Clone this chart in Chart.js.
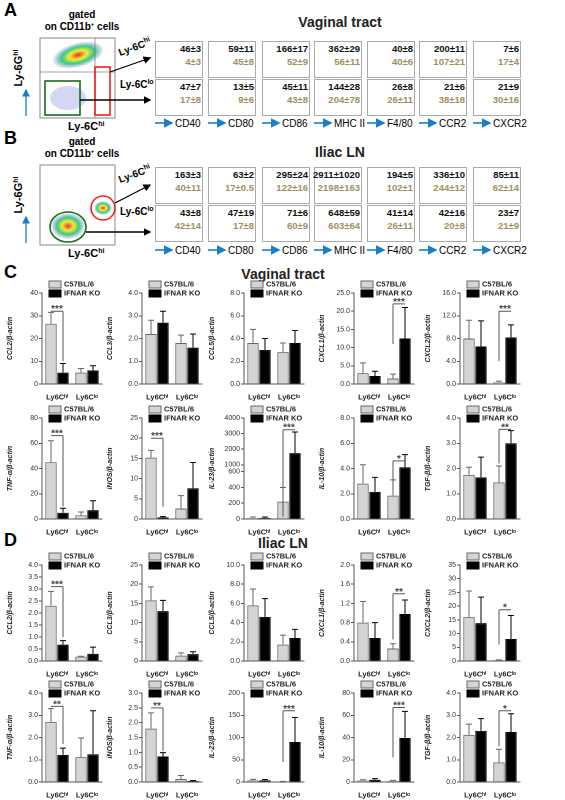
<!DOCTYPE html>
<html lang="en">
<head>
<meta charset="UTF-8" />
<title>Ly6C monocytes</title>
<script src="https://cdn.jsdelivr.net/npm/chart.js"></script>
<style>
  body { margin: 0; background: #fff; font-family: Arial, "Liberation Sans", sans-serif; }
  #page { position: relative; width: 565px; height: 800px; overflow: hidden; }
  .abs { position: absolute; }
  .panel { font-weight: bold; font-size: 18px; }
  .title { font-size: 14px; font-weight: bold; width: 200px; text-align: center; color: #222; }
  .hbox { position: absolute; width: 46px; height: 35px; border: 1px solid #aaa; background: #fff; font-size: 9.5px; font-weight: bold; white-space: nowrap; }
  .hbox .a { position: absolute; right: 1px; top: 1px; color: #111; }
  .hbox .b { position: absolute; right: 1px; top: 14px; color: #a09060; }
  canvas { position: absolute; }
</style>
</head>
<body>
<div id="page">
  <div class="abs panel" style="left:4px;top:0px">A</div>
  <div class="abs panel" style="left:4px;top:128px">B</div>
  <div class="abs panel" style="left:4px;top:262px">C</div>
  <div class="abs panel" style="left:4px;top:530px">D</div>
  <div class="abs title" style="left:240px;top:14px">Vaginal tract</div>
  <div class="abs title" style="left:240px;top:144px">Iliac LN</div>
  <div class="abs title" style="left:183px;top:266px">Vaginal tract</div>
  <div class="abs title" style="left:183px;top:535px">Iliac LN</div>
  <div id="flow"></div>
</div>

<script>
// ---- flow cytometry MFI numbers (panels A, B) ----
const markers = ["CD40", "CD80", "CD86", "MHC II", "F4/80", "CCR2", "CXCR2"];
const vagHiWT = ["46±3", "59±11", "166±17", "362±29", "40±8", "200±11", "7±6"];
const vagHiKO = ["4±3", "45±8", "52±9", "56±11", "40±6", "107±21", "17±4"];
const vagLoWT = ["47±7", "13±5", "45±11", "144±28", "26±8", "21±6", "21±9"];
const vagLoKO = ["17±8", "9±6", "43±8", "204±78", "26±11", "38±18", "30±16"];
const lnHiWT = ["163±3", "63±2", "295±24", "2911±1020", "194±5", "336±10", "85±11"];
const lnHiKO = ["40±11", "17±0.5", "122±16", "2198±163", "102±1", "244±12", "62±14"];
const lnLoWT = ["43±8", "47±19", "71±6", "648±59", "41±14", "42±16", "23±7"];
const lnLoKO = ["42±14", "17±8", "60±9", "603±64", "26±11", "20±8", "21±9"];

// ---- qPCR bars (panels C, D) ----
const groups = ["Ly6Cʰⁱ", "Ly6Cˡᵒ"];
const vagGenes = ["CCL2", "CCL3", "CCL5", "CXCL1", "CXCL2", "TNF-α", "iNOS", "IL-23", "IL-10", "TGF-β"];
const vagWT = [[26.5, 5], [2.2, 1.8], [3.6, 2.8], [3.0, 1.5], [8.0, 0.3], [45, 3], [15.2, 2.6], [15, 220], [2.8, 1.85], [1.75, 1.45]];
const vagWTErr = [[31.5, 6.8], [2.8, 2.15], [4.8, 3.6], [5.8, 2.7], [11.2, 0.5], [62, 5.5], [17, 5.8], [25, 400], [4.3, 3.1], [2.05, 2.1]];
const vagKO = [[5, 6], [2.7, 1.6], [3.0, 3.6], [2.2, 12.5], [6.6, 8.2], [5, 7], [0.4, 7.6], [15, 1750], [2.15, 4.1], [1.65, 3.0]];
const vagKOErr = [[9, 8], [3.2, 2.2], [4.0, 4.7], [3.5, 21], [11.1, 10.4], [8.5, 14.5], [0.6, 14], [25, 3100], [3.3, 5.1], [2.45, 3.5]];
const vagMax = [40, 4, 8, 25, 16, 80, 25, 4000, 8, 4];
const vagStep = [10, 1, 2, 5, 4, 20, 5, 1000, 2, 1];
const vagDec = [0, 1, 1, 1, 1, 0, 0, 0, 1, 1];
// [group, bracket height, drop-to value, side with the vertical, stars]
const vagSig = [[0, 32, 10, 1, "***"], null, null, [1, 22, 11, 0, "***"], [1, 12.8, 4, 0, "***"],
  [0, 66, 10, 1, "***"], [0, 20, 3, 1, "***"], [1, 3250, 30, 0, "***"], [1, 4.6, 2.3, 0, "*"], [1, 3.55, 2.2, 0, "**"]];

const lnGenes = ["CCL2", "CCL3", "CCL5", "CXCL1", "CXCL2", "TNF-α", "iNOS", "IL-23", "IL-10", "TGF-β"];
const lnWT = [[2.3, 0.18], [15.8, 1.4], [5.8, 1.7], [0.8, 0.26], [16, 0.3], [2.7, 1.12], [1.8, 0.1], [4, 1], [1.5, 1], [2.12, 0.88]];
const lnWTErr = [[2.9, 0.2], [19.3, 2.1], [7.5, 2.7], [1.24, 0.36], [25.5, 0.4], [3.3, 1.98], [2.33, 0.22], [6, 1.5], [2, 1.5], [2.6, 1.47]];
const lnKO = [[0.68, 0.3], [13, 1.8], [4.6, 2.4], [0.48, 0.98], [13.8, 8], [1.22, 1.25], [0.86, 0.04], [4, 90], [2, 39.5], [2.3, 2.25]];
const lnKOErr = [[0.85, 0.58], [15.8, 2.4], [6.5, 3.3], [0.8, 1.27], [23.3, 16.6], [1.52, 3.2], [0.99, 0.05], [5.5, 145], [3, 63.5], [2.85, 3.07]];
const lnMax = [4, 25, 10, 2, 35, 4, 3, 200, 80, 4];
const lnStep = [0.5, 5, 2, 0.4, 5, 1, 0.5, 50, 20, 0.5];
const lnDec = [1, 0, 1, 1, 0, 1, 1, 0, 0, 1];
const lnSig = [[0, 3.1, 1.0, 1, "***"], null, null, [1, 1.4, 0.45, 0, "**"], [1, 18.7, 6, 0, "*"],
  [0, 3.4, 1.7, 1, "**"], [0, 2.5, 1.05, 1, "**"], [1, 160, 45, 0, "***"], [1, 67, 22, 0, "***"], [1, 3.2, 1.6, 0, "*"]];

// broken axis used by vaginal IL-23
const brokenTicks = [0, 200, 400, 600, 1000, 2000, 3000, 4000];
function brk(v) { return v <= 600 ? v : 688 + (v - 1000) * 0.198; }
const ident = v => v;

// ---------- flow panel decorations ----------
const flow = document.getElementById("flow");
const histX = [155, 208, 262, 314, 367, 419, 473];
function histRow(top, a, b) {
  histX.forEach((x, i) => {
    const d = document.createElement("div");
    d.className = "hbox";
    d.style.left = x + "px"; d.style.top = top + "px";
    d.innerHTML = '<span class="a">' + a[i] + '</span><span class="b">' + b[i] + '</span>';
    flow.appendChild(d);
  });
}
histRow(41, vagHiWT, vagHiKO);
histRow(79, vagLoWT, vagLoKO);
histRow(167, lnHiWT, lnHiKO);
histRow(205, lnLoWT, lnLoKO);

let svg = '<svg class="abs" style="left:0;top:0" width="565" height="270" xmlns="http://www.w3.org/2000/svg">' +
  '<defs><marker id="ar" markerWidth="6" markerHeight="6" refX="5" refY="3" orient="auto"><path d="M0,0 L6,3 L0,6 z" fill="#000"/></marker>' +
  '<marker id="ab" markerWidth="6" markerHeight="6" refX="5" refY="3" orient="auto"><path d="M0,0 L6,3 L0,6 z" fill="#1a7fc8"/></marker>' +
  '<radialGradient id="g1" cx="50%" cy="50%" r="50%"><stop offset="0" stop-color="#e33"/><stop offset="0.35" stop-color="#ee3"/><stop offset="0.65" stop-color="#3c8"/><stop offset="1" stop-color="#88c" stop-opacity="0.1"/></radialGradient></defs>';
[[38, "A"], [165, "B"]].forEach(([t, p]) => {
  svg += '<rect x="40" y="' + t + '" width="75" height="80" fill="#fff" stroke="#888"/>';
  if (p === "A") {
    svg += '<ellipse cx="78" cy="' + (t + 17) + '" rx="26" ry="12" fill="url(#g1)" transform="rotate(-15 78 ' + (t + 17) + ')"/>';
    svg += '<ellipse cx="68" cy="' + (t + 60) + '" rx="18" ry="12" fill="#a8b0e8" opacity="0.5"/>';
    svg += '<line x1="40" y1="' + (t + 34) + '" x2="115" y2="' + (t + 34) + '" stroke="#666" stroke-width="0.6"/>';
    svg += '<line x1="95" y1="' + t + '" x2="95" y2="' + (t + 80) + '" stroke="#666" stroke-width="0.6"/>';
    svg += '<rect x="45" y="' + (t + 43) + '" width="35" height="34" fill="none" stroke="#1a6a1a" stroke-width="1.6"/>';
    svg += '<rect x="95" y="' + (t + 29) + '" width="15" height="48" fill="none" stroke="#e22" stroke-width="1.6"/>';
    svg += '<line x1="110" y1="' + (t + 34) + '" x2="150" y2="' + (t + 20) + '" stroke="#000" stroke-width="1.3" marker-end="url(#ar)"/>';
    svg += '<line x1="80" y1="' + (t + 62) + '" x2="150" y2="' + (t + 62) + '" stroke="#000" stroke-width="1.3" marker-end="url(#ar)"/>';
  } else {
    svg += '<ellipse cx="68" cy="' + (t + 61) + '" rx="17" ry="13" fill="url(#g1)"/>';
    svg += '<ellipse cx="103" cy="' + (t + 43) + '" rx="9" ry="7" fill="url(#g1)"/>';
    svg += '<ellipse cx="68" cy="' + (t + 62) + '" rx="18" ry="15" fill="none" stroke="#1a6a1a" stroke-width="1.6"/>';
    svg += '<circle cx="103" cy="' + (t + 43) + '" r="12" fill="none" stroke="#e22" stroke-width="1.6"/>';
    svg += '<line x1="115" y1="' + (t + 38) + '" x2="150" y2="' + (t + 20) + '" stroke="#000" stroke-width="1.3" marker-end="url(#ar)"/>';
    svg += '<line x1="86" y1="' + (t + 67) + '" x2="150" y2="' + (t + 67) + '" stroke="#000" stroke-width="1.3" marker-end="url(#ar)"/>';
  }
  svg += '<line x1="26" y1="' + (t + 78) + '" x2="26" y2="' + (t + 52) + '" stroke="#1a7fc8" stroke-width="1.3" marker-end="url(#ab)"/>';
  svg += '<text x="22" y="' + (t + 30) + '" font-size="11" font-weight="bold" transform="rotate(-90 22 ' + (t + 30) + ')" text-anchor="middle">Ly-6G<tspan font-size="7" dy="-4">hi</tspan></text>';
  svg += '<text x="82" y="' + (t - 20) + '" font-size="10" font-weight="bold" text-anchor="middle">gated</text>';
  svg += '<text x="82" y="' + (t - 8) + '" font-size="10" font-weight="bold" text-anchor="middle">on CD11b<tspan font-size="6" dy="-4">+</tspan><tspan dy="4"> cells</tspan></text>';
  svg += '<text x="68" y="' + (t + 92) + '" font-size="11" font-weight="bold">Ly-6C<tspan font-size="7" dy="-4">hi</tspan></text>';
  svg += '<text x="120" y="' + (t + 18) + '" font-size="10" font-weight="bold" transform="rotate(-20 120 ' + (t + 18) + ')">Ly-6C<tspan font-size="7" dy="-4">hi</tspan></text>';
  svg += '<text x="120" y="' + (t + 50) + '" font-size="10" font-weight="bold">Ly-6C<tspan font-size="7" dy="-4">lo</tspan></text>';
  const ly = p === "A" ? 123 : 250;
  histX.forEach((x, i) => {
    svg += '<line x1="' + (x) + '" y1="' + ly + '" x2="' + (x + 17) + '" y2="' + ly + '" stroke="#1a7fc8" stroke-width="1.6" marker-end="url(#ab)"/>';
    svg += '<text x="' + (x + 20) + '" y="' + (ly + 4) + '" font-size="10">' + markers[i] + '</text>';
  });
});
svg += '</svg>';
flow.insertAdjacentHTML("beforeend", svg);

// ---------- bar charts ----------
const page = document.getElementById("page");
const colLeft = [6, 106, 208, 318, 424];
const rowGeom = [[279, 122], [404, 132], [551, 127], [679, 120]];

const errPlugin = {
  id: "err",
  afterDatasetsDraw(chart) {
    const ctx = chart.ctx, y = chart.scales.y;
    const o = chart.$info;
    const map = o.broken ? brk : ident;
    ctx.save();
    [0, 1].forEach(d => {
      const meta = chart.getDatasetMeta(d);
      ctx.strokeStyle = d === 0 ? "#666" : "#000";
      ctx.lineWidth = 1;
      meta.data.forEach((bar, i) => {
        const top = y.getPixelForValue(map(o.err[d][i]));
        ctx.beginPath();
        ctx.moveTo(bar.x, bar.y); ctx.lineTo(bar.x, top);
        ctx.moveTo(bar.x - 3, top); ctx.lineTo(bar.x + 3, top);
        ctx.stroke();
      });
    });
    const s = o.sig;
    if (s) {
      const a = chart.getDatasetMeta(0).data[s[0]].x, b = chart.getDatasetMeta(1).data[s[0]].x;
      const h = y.getPixelForValue(map(s[1])), dn = y.getPixelForValue(map(s[2]));
      const vx = s[3] === 0 ? a : b;
      ctx.strokeStyle = "#555";
      ctx.beginPath();
      ctx.moveTo(a, h); ctx.lineTo(b, h);
      ctx.moveTo(vx, h); ctx.lineTo(vx, dn);
      ctx.stroke();
      ctx.fillStyle = "#444";
      ctx.font = "bold 10px Arial";
      ctx.textAlign = "center";
      ctx.fillText(s[4], (a + b) / 2, h + 1);
    }
    // legend
    const L = chart.chartArea.left + 7;
    ctx.font = "bold 7.5px Arial";
    ctx.textAlign = "left";
    ctx.textBaseline = "middle";
    [["C57BL/6", "#d4d4d4", "#666"], ["IFNAR KO", "#000", "#000"]].forEach(([t, f, st], k) => {
      const ty = 5 + k * 9;
      ctx.fillStyle = f; ctx.fillRect(L, ty - 3, 12, 7);
      ctx.strokeStyle = st; ctx.strokeRect(L, ty - 3, 12, 7);
      ctx.fillStyle = "#222"; ctx.fillText(t, L + 15, ty + 0.5);
    });
    ctx.restore();
  }
};

function makeChart(row, col, gene, wt, ko, wtE, koE, max, step, dec, sig, broken) {
  const c = document.createElement("canvas");
  const [top, h] = rowGeom[row];
  c.style.left = colLeft[col] + "px"; c.style.top = top + "px";
  c.width = 100; c.height = h;
  page.appendChild(c);
  const map = broken ? brk : ident;
  const yScale = {
    min: 0, max: map(max),
    border: { color: "#555" },
    grid: { display: true, drawOnChartArea: false, tickLength: 3, color: "#555" },
    ticks: { stepSize: step, font: { size: 7 }, color: "#333", padding: 1,
      callback: v => broken ? brokenTicks[brokenTicks.map(brk).indexOf(v)] : v.toFixed(dec) },
    title: { display: true, text: gene + "/β-actin", font: { size: 7, style: "italic", weight: "bold" }, padding: 0, color: "#222" },
    afterFit: s => { s.width = 36; }
  };
  if (broken) yScale.afterBuildTicks = s => { s.ticks = brokenTicks.map(v => ({ value: brk(v) })); };
  new Chart(c, {
    type: "bar",
    data: {
      labels: groups,
      datasets: [
        { data: wt.map(map), backgroundColor: "#d4d4d4", borderColor: "#666", borderWidth: 1 },
        { data: ko.map(map), backgroundColor: "#000", borderColor: "#000", borderWidth: 1 }
      ]
    },
    options: {
      responsive: false, animation: false, devicePixelRatio: 2,
      layout: { padding: { top: 14, right: 4 } },
      categoryPercentage: 0.8, barPercentage: 0.95,
      plugins: { legend: { display: false }, tooltip: { enabled: false } },
      scales: {
        x: { border: { color: "#555" }, grid: { display: false },
          ticks: { font: { size: 7.5, weight: "bold" }, color: "#222", padding: 1, maxRotation: 0 },
          afterFit: s => { s.height = 17; } },
        y: yScale
      }
    },
    plugins: [{ id: "info", beforeInit(ch) { ch.$info = { err: [wtE, koE], sig: sig, broken: broken }; } }, errPlugin]
  });
}

for (let i = 0; i < 10; i++) {
  makeChart(i < 5 ? 0 : 1, i % 5, vagGenes[i], vagWT[i], vagKO[i], vagWTErr[i], vagKOErr[i],
    vagMax[i], vagStep[i], vagDec[i], vagSig[i], vagGenes[i] === "IL-23");
  makeChart(i < 5 ? 2 : 3, i % 5, lnGenes[i], lnWT[i], lnKO[i], lnWTErr[i], lnKOErr[i],
    lnMax[i], lnStep[i], lnDec[i], lnSig[i], false);
}
</script>
</body>
</html>
